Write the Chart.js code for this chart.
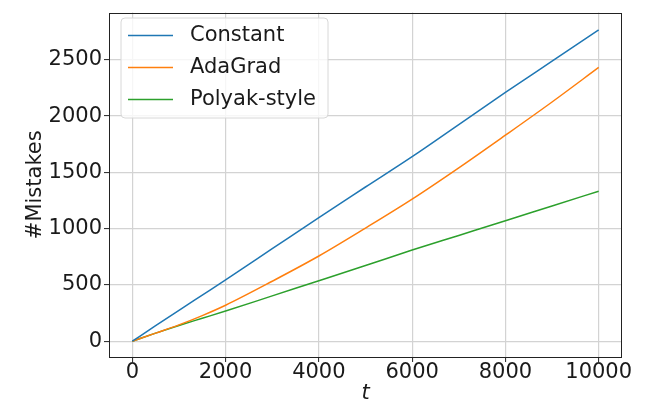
<!DOCTYPE html>
<html>
<head>
<meta charset="utf-8">
<script src="https://cdn.jsdelivr.net/npm/chart.js@4"></script>
<style>
html,body{margin:0;padding:0;background:#fff;}
#wrap{width:648px;height:404px;}
</style>
</head>
<body>
<div id="wrap"><canvas id="c" width="648" height="404"></canvas></div>
<script>
const steps = [0, 500, 1000, 1500, 2000, 3000, 4000, 5000, 6000, 7000, 8000, 9000, 10000];
const constantVals = [0, 138, 275, 410, 545, 822, 1099, 1370, 1640, 1925, 2210, 2488, 2766];
const adagradVals  = [0, 72, 145, 228, 320, 533, 757, 1005, 1262, 1540, 1830, 2125, 2432];
const polyakVals   = [0, 72, 140, 204, 268, 403, 537, 672, 810, 940, 1070, 1202, 1333];
const seriesNames = ['Constant', 'AdaGrad', 'Polyak-style'];
const seriesColors = ['#1f77b4', '#ff7f0e', '#2ca02c'];
const xTicks = [0, 2000, 4000, 6000, 8000, 10000];
const yTicks = [0, 500, 1000, 1500, 2000, 2500];

const FONT = 'DejaVu Sans';
const FS = 21;

function pts(vals){ return steps.map((s,i)=>({x:s, y:vals[i]})); }

const datasets = [constantVals, adagradVals, polyakVals].map((v,i)=>({
  label: seriesNames[i],
  data: pts(v),
  borderColor: seriesColors[i],
  borderWidth: 1.5,
  pointRadius: 0,
  cubicInterpolationMode: 'monotone',
  fill: false
}));

const frameAndLegend = {
  id: 'frameAndLegend',
  afterDraw(chart){
    const ctx = chart.ctx;
    const a = chart.chartArea;
    ctx.save();
    ctx.strokeStyle = '#222';
    ctx.lineWidth = 1;
    ctx.strokeRect(Math.round(a.left)+0.5, Math.round(a.top)+0.5, Math.round(a.right-a.left)-1, Math.round(a.bottom-a.top)-1);
    // legend
    const bx = 121, by = 18, bw = 207, bh = 100, r = 4;
    ctx.beginPath();
    ctx.moveTo(bx+r, by);
    ctx.lineTo(bx+bw-r, by); ctx.quadraticCurveTo(bx+bw, by, bx+bw, by+r);
    ctx.lineTo(bx+bw, by+bh-r); ctx.quadraticCurveTo(bx+bw, by+bh, bx+bw-r, by+bh);
    ctx.lineTo(bx+r, by+bh); ctx.quadraticCurveTo(bx, by+bh, bx, by+bh-r);
    ctx.lineTo(bx, by+r); ctx.quadraticCurveTo(bx, by, bx+r, by);
    ctx.closePath();
    ctx.fillStyle = 'rgba(255,255,255,0.8)';
    ctx.fill();
    ctx.strokeStyle = '#d8d8d8';
    ctx.lineWidth = 1;
    ctx.stroke();
    const rows = [35, 67, 99];
    ctx.font = FS + 'px "' + FONT + '"';
    ctx.textBaseline = 'middle';
    ctx.textAlign = 'left';
    seriesNames.forEach((n,i)=>{
      ctx.strokeStyle = seriesColors[i];
      ctx.lineWidth = 1.5;
      ctx.beginPath();
      ctx.moveTo(128, rows[i]+0.5);
      ctx.lineTo(173, rows[i]+0.5);
      ctx.stroke();
      ctx.fillStyle = '#1a1a1a';
      ctx.fillText(n, 190, rows[i]+1);
    });
    ctx.restore();
  }
};

new Chart(document.getElementById('c'), {
  type: 'line',
  data: { datasets },
  options: {
    responsive: false,
    animation: false,
    devicePixelRatio: 1,
    layout: { padding: { left: 0, right: 26, top: 6, bottom: 0 } },
    plugins: { legend: { display: false }, tooltip: { enabled: false } },
    scales: {
      x: {
        type: 'linear',
        min: -500, max: 10500,
        afterFit(s){ s.height = 47; },
        afterBuildTicks(s){ s.ticks = xTicks.map(v=>({value:v})); },
        ticks: { color: '#1a1a1a', font: { family: FONT, size: FS, lineHeight: 1 }, padding: 0, maxRotation: 0, autoSkip: false, callback: v => String(v) },
        grid: { color: '#d3d3d3', lineWidth: 1.2, tickColor: '#222', tickLength: 5, tickWidth: 1 },
        border: { display: false },
        title: { display: true, text: 't', color: '#1a1a1a', font: { family: FONT, size: FS, style: 'italic', lineHeight: 1 }, padding: { top: 0, bottom: 0 } }
      },
      y: {
        type: 'linear',
        min: -140, max: 2920,
        afterFit(s){ s.width = 109; },
        afterBuildTicks(s){ s.ticks = yTicks.map(v=>({value:v})); },
        ticks: { color: '#1a1a1a', font: { family: FONT, size: FS, lineHeight: 1 }, padding: 2, autoSkip: false, callback: v => String(v) },
        grid: { color: '#d3d3d3', lineWidth: 1.2, tickColor: '#222', tickLength: 5, tickWidth: 1 },
        border: { display: false },
        title: { display: true, text: '#Mistakes', color: '#1a1a1a', font: { family: FONT, size: FS, lineHeight: 1 }, padding: { top: 25, bottom: 0 } }
      }
    }
  },
  plugins: [frameAndLegend]
});
</script>
</body>
</html>
